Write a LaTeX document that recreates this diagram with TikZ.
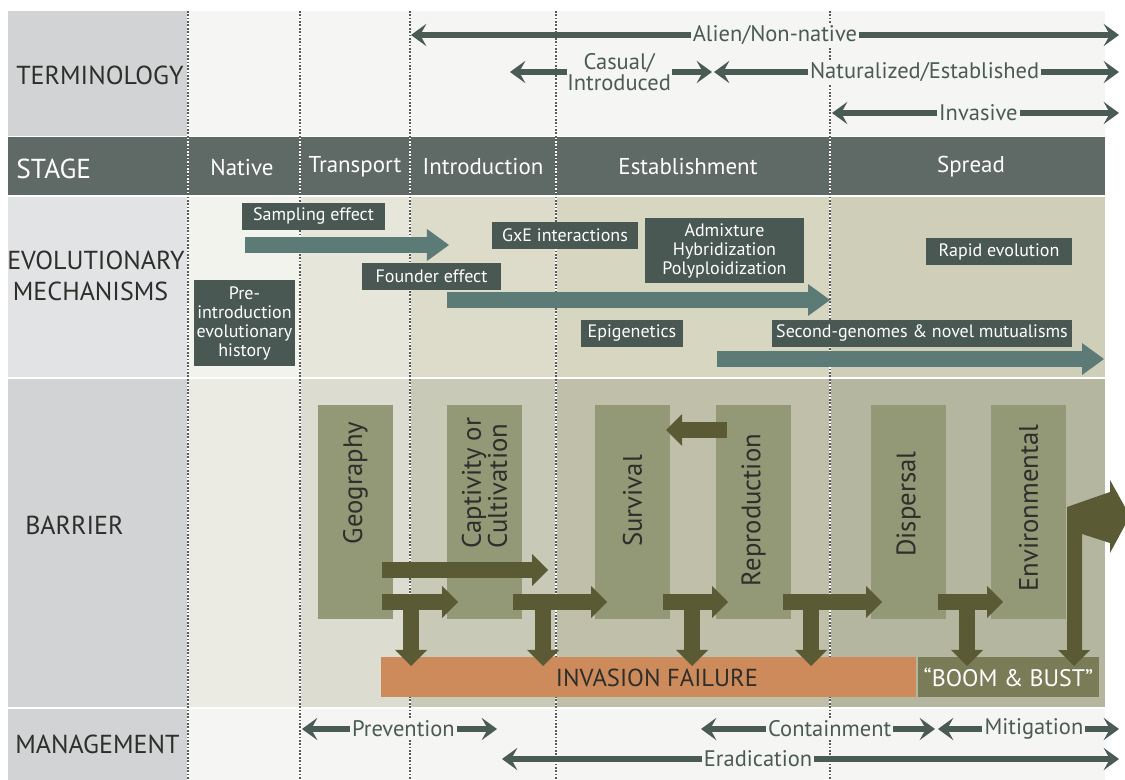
\documentclass[tikz,border=0pt]{standalone}
\usepackage{fontspec}
\setmainfont{PT Sans}
\usetikzlibrary{arrows.meta, positioning}

\definecolor{ink}{HTML}{2E2E2B}
\definecolor{paper}{HTML}{F5F5F3}
\definecolor{labelgray}{HTML}{D1D3D4}
\definecolor{evolgray}{HTML}{E2E3E5}
\definecolor{stagedark}{HTML}{5F6965}
\definecolor{slate}{HTML}{4A5A55}
\definecolor{mechdark}{HTML}{4A5854}
\definecolor{mechteal}{HTML}{5D7B76}
\definecolor{mechA}{HTML}{F3F3ED}
\definecolor{mechB}{HTML}{E7E6DB}
\definecolor{mechC}{HTML}{DDDCCA}
\definecolor{mechD}{HTML}{D7D6C1}
\definecolor{mechE}{HTML}{CFCFB9}
\definecolor{barA}{HTML}{EBEBE3}
\definecolor{barB}{HTML}{DCDCD0}
\definecolor{barC}{HTML}{C9C9B8}
\definecolor{barD}{HTML}{C0BFAA}
\definecolor{barE}{HTML}{B5B69F}
\definecolor{barfill}{HTML}{939877}
\definecolor{barolive}{HTML}{5A5B35}
\definecolor{failorange}{HTML}{CD8B5C}
\definecolor{boomgreen}{HTML}{7A7B57}

\tikzset{
  termtip/.tip={Stealth[length=11pt, width=16pt, inset=4.5pt, line width=0pt]},
  mechtip/.tip={Triangle[length=0.55cm, width=0.8cm, line width=0pt]},
  bartip/.tip={Triangle[length=0.4cm, width=0.8cm, line width=0pt]}
}

\begin{document}
\begin{tikzpicture}[
      x=0.025cm, y=-0.025cm,
      rowlabel/.style={anchor=west, inner sep=0pt, text=ink, font=\fontsize{18.5}{22}\selectfont},
      stagelabel/.style={inner sep=0pt, text=white, font=\fontsize{16.3}{18}\selectfont},
      dotline/.style={draw=gray!70!black, line width=1pt, dash pattern=on 1.2pt off 1.2pt},
      termarrow/.style={draw=slate, line width=3.8pt, termtip-termtip},
      termlabel/.style={fill=paper, text=slate, inner sep=1.5pt, align=center, font=\fontsize{16}{14.5}\selectfont},
      mechbox/.style={fill=mechdark, text=white, inner sep=0pt, align=center, font=\fontsize{12.8}{13.5}\selectfont},
      mecharrow/.style={draw=mechteal, line width=0.4cm, -mechtip},
      barbox/.style={fill=barfill, minimum width=1.875cm, minimum height=5.35cm, inner sep=0pt},
      bartext/.style={rotate=90, inner sep=0pt, align=left, text=ink, font=\fontsize{19}{16}\selectfont},
      barrow/.style={draw=barolive, line width=0.42cm, -bartip}
    ]
      \useasboundingbox (0,0) rectangle (1125,780);

      % Row backgrounds
      \fill[labelgray] (8,11) rectangle (187,136);
      \fill[paper] (188,11) rectangle (1105,136);
      \fill[stagedark] (8,137) rectangle (1105,195);
      \fill[evolgray] (8,197) rectangle (187,377);
      \fill[labelgray] (8,379) rectangle (187,707);
      \fill[labelgray] (8,709) rectangle (187,780);
      \fill[paper] (188,709) rectangle (1105,780);
      \foreach \xa/\xb/\c in {188/300/A, 300/410/B, 410/556/C, 556/830/D, 830/1105/E} {
        \fill[mech\c] (\xa,197) rectangle (\xb,377);
        \fill[bar\c] (\xa,379) rectangle (\xb,707);
      }

      % Stage borders
      \foreach \x in {188,300,410,556,830} {
        \draw[white, line width=1.6pt] (\x,11) -- (\x,780);
        \draw[dotline] (\x,11) -- (\x,780);
      }

      % Row labels
      \node[rowlabel] (terminology) at (16,75) {TERMINOLOGY};
      \node[rowlabel, text=white, font=\fontsize{19.5}{22}\selectfont] (stage) at (16,169) {STAGE};
      \node[rowlabel, align=left] (evolution) at (7,276) {EVOLUTIONARY\\\hspace*{4pt}MECHANISMS};
      \node[rowlabel] (barrier) at (25,525) {BARRIER};
      \node[rowlabel] (management) at (15,744) {MANAGEMENT};

      % Stage names
      \foreach \x/\s in {242/Native, 355/Transport, 483/Introduction, 688/Establishment, 971/Spread} {
        \node[stagelabel] (st-\s) at (\x,167) {\s};
      }

      % Terminology arrows
      \coordinate (alienL) at (411,35);
      \coordinate (alienR) at (1119,35);
      \coordinate (casualL) at (510,72);
      \coordinate (casualR) at (712,72);
      \coordinate (naturL) at (714,72);
      \coordinate (naturR) at (1119,72);
      \coordinate (invL) at (832,113);
      \coordinate (invR) at (1119,113);
      \draw[termarrow] (alienL) -- node[termlabel, pos=0.514] (alien) {Alien/Non-native} (alienR);
      \draw[termarrow] (casualL) -- node[termlabel, pos=0.54, inner sep=0.5pt] (casual) {Casual/\\Introduced} (casualR);
      \draw[termarrow] (naturL) -- node[termlabel, pos=0.52] (natur) {Naturalized/Established} (naturR);
      \draw[termarrow] (invL) -- node[termlabel, pos=0.51] (invasive) {Invasive} (invR);

      % Evolutionary mechanisms
      \node[mechbox, minimum width=3.575cm, minimum height=0.675cm] (sampling) at (313.5,216.5) {Sampling effect};
      \node[mechbox, minimum width=3.65cm, minimum height=0.675cm] (gxe) at (565,235.5) {GxE interactions};
      \node[mechbox, minimum width=3.975cm, minimum height=1.625cm] (admix) at (724.5,250.5) {Admixture\\Hybridization\\Polyploidization};
      \node[mechbox, minimum width=3.65cm, minimum height=0.675cm] (rapid) at (999,251.5) {Rapid evolution};
      \node[mechbox, minimum width=2.525cm, minimum height=2.15cm] (preintro) at (244.5,323) {Pre-\\introduction\\evolutionary\\history};
      \node[mechbox, minimum width=3.475cm, minimum height=0.675cm] (founder) at (431.5,276.5) {Founder effect};
      \node[mechbox, minimum width=2.55cm, minimum height=0.675cm] (epigen) at (632,333.5) {Epigenetics};
      \node[mechbox, minimum width=7.5cm, minimum height=0.675cm] (secgen) at (922,333.5) {Second-genomes \& novel mutualisms};

      \coordinate (samplingS) at (245,245);
      \coordinate (samplingE) at (449,245);
      \coordinate (founderS) at (447,300);
      \coordinate (founderE) at (830,300);
      \coordinate (secgenS) at (717,359);
      \coordinate (secgenE) at (1104,359);
      \draw[mecharrow] (samplingS) -- (samplingE);
      \draw[mecharrow] (founderS) -- (founderE);
      \draw[mecharrow] (secgenS) -- (secgenE);

      % Barriers
      \foreach \x/\n in {355.5/geo, 484.5/capt, 632.5/surv, 753.5/repro, 908.5/disp, 1028.5/envi} {
        \node[barbox] (\n) at (\x,512) {};
      }
      \node[bartext] at (geo |- 0,483) {Geography};
      \node[bartext] at (capt |- 0,483) {Captivity or\\Cultivation};
      \node[bartext] at (surv |- 0,501) {Survival};
      \node[bartext] at (repro |- 0,510) {Reproduction};
      \node[bartext] at (disp |- 0,504) {Dispersal};
      \node[bartext] at (envi |- 0,508) {Environmental};

      % Outcomes
      \node[fill=failorange, minimum width=13.375cm, minimum height=1cm, inner sep=0pt] (failure) at (648.5,677) {};
      \node[text=ink, font=\fontsize{17.5}{19}\selectfont] at (657,678) {INVASION FAILURE};
      \node[fill=boomgreen, minimum width=4.525cm, minimum height=1cm, inner sep=0pt, text=white, font=\fontsize{17}{19}\selectfont] (boom) at (1008.5,677) {``BOOM \& BUST''};

      % Barrier arrows
      \coordinate (longS) at (382,570);
      \coordinate (longE) at (548,570);
      \draw[barrow] (longS) -- (longE);
      \coordinate (backS) at (727,430);
      \coordinate (backE) at (666,430);
      \draw[barrow] (backS) -- (backE);
      \foreach \a/\b/\d [count=\i] in {382/458/411, 513/607/543, 663/728/692, 783/882/811, 938/1003/967} {
        \coordinate (pass\i) at (\a,602);
        \coordinate (next\i) at (\b,602);
        \coordinate (tee\i) at (\d,602);
        \coordinate (drop\i) at (\d,666);
        \draw[barrow] (tee\i) -- (drop\i);
        \draw[barrow] (pass\i) -- (next\i);
      }
      % bent arrow out of the environmental barrier
      \fill[barolive] (1067,650) -- (1067,507) -- (1110,492) -- (1110,480) -- (1130,516)
        -- (1110,553) -- (1110,543) -- (1082,534) -- (1082,650) -- (1090,650)
        -- (1074,666) -- (1058,650) -- cycle;

      % Management arrows
      \coordinate (prevL) at (302,729);
      \coordinate (prevR) at (497,729);
      \coordinate (contL) at (701,729);
      \coordinate (contR) at (935,729);
      \coordinate (mitiL) at (938,729);
      \coordinate (mitiR) at (1119,729);
      \coordinate (eradL) at (502,759);
      \coordinate (eradR) at (1119,759);
      \draw[termarrow] (prevL) -- node[termlabel, pos=0.52] (prevention) {Prevention} (prevR);
      \draw[termarrow] (contL) -- node[termlabel, pos=0.55] (containment) {Containment} (contR);
      \draw[termarrow] (mitiL) -- node[termlabel, pos=0.53] (mitigation) {Mitigation} (mitiR);
      \draw[termarrow] (eradL) -- node[termlabel, pos=0.415] (eradication) {Eradication} (eradR);
    \end{tikzpicture}
\end{document}
